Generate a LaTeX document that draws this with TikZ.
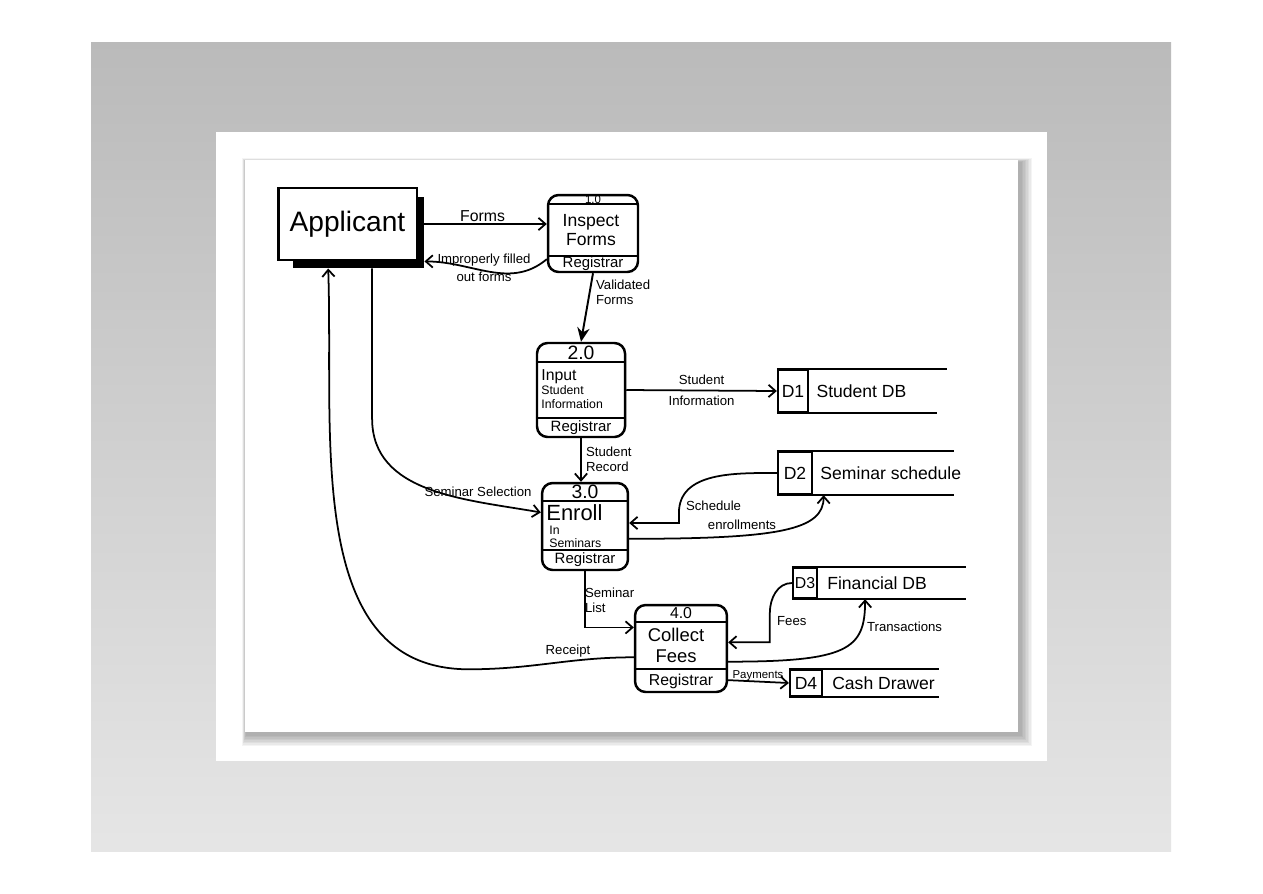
\documentclass[tikz,border=0pt]{standalone}
\usepackage{fontspec}
\setmainfont{Liberation Sans}
\usetikzlibrary{arrows.meta,positioning}

\begin{document}
\begin{tikzpicture}[x=0.02cm,y=-0.02cm,
	proc/.style={draw,line width=1.4pt,rounded corners=6pt,inner sep=0pt},
	storeid/.style={draw,line width=1.3pt,inner sep=0pt,font=\fontsize{10}{10}\selectfont},
	storeline/.style={line width=1.3pt},
	divide/.style={line width=1.2pt},
	flow/.style={line width=1pt,-{Straight Barb[length=4pt,width=7pt]}},
	bigflow/.style={line width=1.1pt,-{Stealth[length=8pt,width=7pt]}},
	lbl/.style={font=\fontsize{7.5}{8.5}\selectfont,inner sep=1pt,align=left},
	pnum/.style={font=\fontsize{10}{10}\selectfont,inner sep=0pt},
	ptext/.style={font=\fontsize{10}{11}\selectfont,inner sep=0pt,align=center},
	who/.style={font=\fontsize{8.5}{9}\selectfont,inner sep=0pt},
	dbtext/.style={font=\fontsize{10}{10}\selectfont,inner sep=0pt}]
				\useasboundingbox (0,0) rectangle (1263,893);
				\fill[white] (0,0) rectangle (1263,893);
				\shade[top color=black!27,bottom color=black!10] (91,42) rectangle (1171,851);
				\fill[white] (216,132) rectangle (1047,761);
				\foreach \s in {1,...,8}
					\fill[black,opacity=0.045] (246-\s*0.5,162-\s*0.5) rectangle (1020+\s*1.5,734+\s*1.5);
				\fill[white] (245,160) rectangle (1018,732);

				\node[draw,line width=1.6pt,minimum width=79pt,minimum height=41pt,font=\fontsize{16}{16}\selectfont] (app) at (347.5,224) {Applicant};
				\fill ([yshift=-6pt]app.north east) rectangle ([xshift=3.5pt,yshift=-4pt]app.south east);
				\fill ([xshift=9pt]app.south west) rectangle ([xshift=3.5pt,yshift=-4pt]app.south east);

				\node[proc,minimum width=51.2pt,minimum height=43.8pt] (p1) at (593,233.5) {};
				\draw[divide] (p1.west |- 0,204) -- (p1.east |- 0,204);
				\draw[divide] (p1.west |- 0,256) -- (p1.east |- 0,256);
				\node[pnum,font=\fontsize{6.5}{6.5}\selectfont] (p1num) at (593,199.5) {1.0};
				\node[ptext] (p1name) at (591,230) {Inspect\\Forms};
				\node[who] (p1who) at (593,264) {Registrar};

				\node[proc,minimum width=50.1pt,minimum height=53.5pt] (p2) at (581,390) {};
				\draw[divide] (p2.west |- 0,362) -- (p2.east |- 0,362);
				\draw[divide] (p2.west |- 0,418) -- (p2.east |- 0,418);
				\node[pnum,font=\fontsize{11}{11}\selectfont] (p2num) at (581,352.5) {2.0};
				\node[anchor=west,inner sep=0pt,align=left,font=\fontsize{7}{8}\selectfont] (p2name) at (541,389) {{\fontsize{9}{9}\selectfont Input}\\Student\\Information};
				\node[who] (p2who) at (581,428) {Registrar};

				\node[proc,minimum width=48.9pt,minimum height=49.5pt] (p3) at (585,526.5) {};
				\draw[divide] (p3.west |- 0,501) -- (p3.east |- 0,501);
				\draw[divide] (p3.west |- 0,550) -- (p3.east |- 0,550);
				\node[pnum,font=\fontsize{11}{11}\selectfont] (p3num) at (585,492) {3.0};
				\node[anchor=west,inner sep=0pt,font=\fontsize{12.5}{12.5}\selectfont] (p3name) at (546,513) {Enroll};
				\node[anchor=west,inner sep=0pt,align=left,font=\fontsize{7}{7.5}\selectfont] (p3sub) at (549,536.5) {In\\Seminars};
				\node[who] (p3who) at (585,560) {Registrar};

				\node[proc,minimum width=52.3pt,minimum height=49.5pt] (p4) at (681,648.5) {};
				\draw[divide] (p4.west |- 0,622) -- (p4.east |- 0,622);
				\draw[divide] (p4.west |- 0,669) -- (p4.east |- 0,669);
				\node[pnum,font=\fontsize{9}{9}\selectfont] (p4num) at (681,613.5) {4.0};
				\node[ptext,font=\fontsize{10.5}{12}\selectfont] (p4name) at (676,645) {Collect\\Fees};
				\node[who,font=\fontsize{9}{9}\selectfont] (p4who) at (681,681) {Registrar};

				\node[storeid,minimum width=17.1pt,minimum height=23.9pt] (d1id) at (793,391) {D1};
				\draw[storeline] (d1id.north west) -- ++(170,0);
				\draw[storeline] (d1id.south west) -- ++(160,0);
				\node[dbtext,right=4pt of d1id] (d1name) {Student DB};

				\node[storeid,minimum width=19.3pt,minimum height=23.9pt] (d2id) at (795,473) {D2};
				\draw[storeline] (d2id.north west) -- ++(177,0);
				\draw[storeline] (d2id.south west) -- ++(177,0);
				\node[dbtext,right=4pt of d2id] (d2name) {Seminar schedule};

				\node[storeid,minimum width=13.7pt,minimum height=17.1pt,font=\fontsize{9}{9}\selectfont] (d3id) at (805,583) {D3};
				\draw[storeline] (d3id.north west) -- ++(174,0);
				\draw[storeline] (d3id.south west) -- ++(174,0);
				\node[dbtext,right=5pt of d3id] (d3name) {Financial DB};

				\node[storeid,minimum width=18.2pt,minimum height=14.8pt] (d4id) at (806,683) {D4};
				\draw[storeline] (d4id.north west) -- ++(150,0);
				\draw[storeline] (d4id.south west) -- ++(150,0);
				\node[dbtext,right=5pt of d4id] (d4name) {Cash Drawer};

				\draw[flow] (app.east) -- node[lbl,above,font=\fontsize{9}{9}\selectfont] (lforms) {Forms} (p1.west |- app.east);
				\draw[flow] ([yshift=8pt]p1.south west) to[out=220,in=0] ([xshift=3.5pt]app.south east);
				\node[lbl,align=center,font=\fontsize{7.5}{10}\selectfont] (lbad) at (484,268) {Improperly filled\\out forms};
				\draw[bigflow] (p1.south) -- (p2.north);
				\node[lbl,anchor=west] (lval) at (594,292) {Validated\\Forms};
				\draw[flow] (p2.east) -- node[lbl,align=center,font=\fontsize{7.5}{12}\selectfont] (linfo) {Student\\Information} (d1id.west);
				\draw[flow] (p2.south) -- (p2.south |- p3.north);
				\node[lbl,anchor=west] (lrec) at (584,459) {Student\\Record};
				\draw[flow] ([xshift=14pt,yshift=-4pt]app.south) -- ++(0,150) to[out=-90,in=170] ([yshift=8pt]p3.west);
				\node[lbl] (lsel) at (478,492) {Seminar Selection};
				\draw[flow] (d2id.west) to[out=180,in=90] ++(-98,40) |- ([yshift=2pt]p3.east);
				\node[lbl,anchor=west] (lsch) at (684,506) {Schedule};
				\draw[flow] ([yshift=-7pt]p3.east) .. controls +(150,0) and +(0,35) .. ([xshift=6pt]d2id.south east);
				\node[lbl] (lenr) at (742,525) {enrollments};
				\draw[flow] (p3.south) |- ([yshift=12pt]p4.west);
				\node[lbl,anchor=west] (llist) at (583,600) {Seminar\\List};
				\draw[flow] ([yshift=-5pt]p4.west) to[out=180,in=0] ++(-165,12) to[out=180,in=-88] ([xshift=-11pt,yshift=-4pt]app.south);
				\node[lbl] (lrcpt) at (568,651) {Receipt};
				\draw[flow] (d3id.west) to[out=180,in=90] ++(-22,30) |- ([yshift=3.5pt]p4.east);
				\node[lbl,anchor=west] (lfees) at (775,621) {Fees};
				\draw[flow] ([yshift=-7.5pt]p4.east) .. controls +(120,0) and +(0,50) .. ([xshift=26.7pt]d3id.south east);
				\node[lbl,anchor=west] (ltrans) at (865,627) {Transactions};
				\draw[flow] ([yshift=-18pt]p4.east) -- (d4id.west);
				\node[lbl,font=\fontsize{6.5}{7}\selectfont] (lpay) at (758,676) {Payments};
\end{tikzpicture}
\end{document}
